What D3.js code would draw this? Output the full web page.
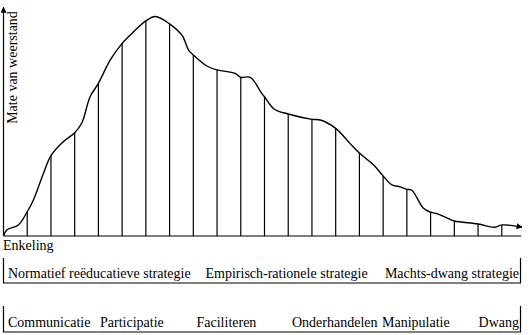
<!DOCTYPE html>
<html>
<head>
<meta charset="utf-8">
<script src="https://cdn.jsdelivr.net/npm/d3@7"></script>
<style>
  body { margin: 0; background: #fff; }
</style>
</head>
<body>
<div id="chart"></div>
<script>
// curve: position along the axis (tick units) and level of resistance (0-100)
const curveX = [0, 0.14, 0.63, 1, 1.26, 1.69, 2, 2.46, 3, 3.3, 3.65, 4, 4.5, 5, 5.48, 6, 6.4, 7, 7.55, 7.62, 7.8, 8, 8.57, 9, 9.76, 10, 10.4, 10.9, 11, 11.4, 12, 13, 13.35, 14, 14.6, 15, 15.6, 16, 16.37, 16.72, 17, 17.2, 17.7, 18, 18.33, 18.7, 19, 20, 20.7, 21, 21.85];
const curveY = [0, 2.6, 4.8, 10.5, 15.6, 27.3, 34.8, 40.3, 44.7, 48.9, 60.3, 66.1, 76.2, 83.4, 88.4, 93.1, 95.0, 91.8, 86.5, 85, 80.5, 78.4, 73.6, 71.9, 70.4, 68.7, 68.7, 61.5, 60.3, 55.0, 52.8, 50.5, 50.2, 46.6, 40.1, 35.9, 30.7, 26.0, 22.1, 21.3, 20.2, 19.9, 12.0, 10.3, 9.5, 7.7, 6.5, 5.2, 3.8, 4.8, 3.8];
const tickIdx = d3.range(1, 22); // vertical lines at whole tick units

const yTitle = 'Mate van weerstand';
const xStart = 'Enkeling';
const strategies = ['Normatief reëducatieve strategie', 'Empirisch-rationele strategie', 'Machts-dwang strategie'];
const methods = ['Communicatie', 'Participatie', 'Faciliteren', 'Onderhandelen', 'Manipulatie', 'Dwang'];

const width = 532, height = 335;
const font = '"Liberation Serif", "Times New Roman", "DejaVu Serif", serif';
const svg = d3.select('#chart').append('svg')
  .attr('width', width)
  .attr('height', height)
  .attr('font-family', font)
  .attr('font-size', 14);

const x = d3.scaleLinear().domain([0, 22]).range([3.5, 525.5]);
const y = d3.scaleLinear().domain([0, 100]).range([236, 5]);

const defs = svg.append('defs');
defs.append('marker')
  .attr('id', 'arrow')
  .attr('viewBox', '0 0 10 10')
  .attr('refX', 9).attr('refY', 5)
  .attr('markerWidth', 6).attr('markerHeight', 6)
  .attr('markerUnits', 'userSpaceOnUse')
  .attr('orient', 'auto')
  .append('path')
  .attr('d', 'M0,0 L10,5 L0,10 z')
  .attr('fill', '#000');

const pts = curveX.map((d, i) => [d, curveY[i]]);

// vertical lines from baseline up to the curve
const interp = u => {
  const i = d3.bisectLeft(curveX, u);
  if (curveX[i] === u) return curveY[i];
  const t = (u - curveX[i - 1]) / (curveX[i] - curveX[i - 1]);
  return curveY[i - 1] + t * (curveY[i] - curveY[i - 1]);
};
svg.selectAll('.tick-line')
  .data(tickIdx)
  .enter()
  .append('line')
  .attr('class', 'tick-line')
  .attr('x1', d => x(d)).attr('x2', d => x(d))
  .attr('y1', y(0)).attr('y2', d => y(interp(d)))
  .attr('stroke', '#000')
  .attr('stroke-width', 1.2);

// axes
svg.append('line')
  .attr('x1', x(0)).attr('y1', y(0))
  .attr('x2', x(21.82)).attr('y2', y(0))
  .attr('stroke', '#000').attr('stroke-width', 1.2);
svg.append('line')
  .attr('x1', x(0)).attr('y1', y(0))
  .attr('x2', x(0)).attr('y2', y(99))
  .attr('stroke', '#000').attr('stroke-width', 1.2)
  .attr('marker-end', 'url(#arrow)');

// the curve
svg.append('path')
  .datum(pts)
  .attr('d', d3.line().x(d => x(d[0])).y(d => y(d[1])).curve(d3.curveCatmullRom.alpha(0.5)))
  .attr('fill', 'none')
  .attr('stroke', '#000')
  .attr('stroke-width', 1.4)
  .attr('marker-end', 'url(#arrow)');

// y title
svg.append('text')
  .attr('transform', `translate(17,${(10 + 125) / 2}) rotate(-90)`)
  .attr('text-anchor', 'middle')
  .text(yTitle);

svg.append('text')
  .attr('x', 3).attr('y', 250)
  .text(xStart);

// brackets under the chart
function bracket(top, bottom) {
  svg.append('path')
    .attr('d', `M${x(0)},${top} V${bottom} H520.5 V${top}`)
    .attr('fill', 'none')
    .attr('stroke', '#000')
    .attr('stroke-width', 1.2);
}
bracket(258, 283);
bracket(306, 332);

const stratPos = [8, 205.5, 519];
const stratAnchor = ['start', 'start', 'end'];
svg.selectAll('.strat')
  .data(strategies)
  .enter()
  .append('text')
  .attr('class', 'strat')
  .attr('x', (d, i) => stratPos[i])
  .attr('y', 278)
  .attr('text-anchor', (d, i) => stratAnchor[i])
  .text(d => d);

const methodPos = [8, 100, 196.5, 292, 382, 519];
svg.selectAll('.method')
  .data(methods)
  .enter()
  .append('text')
  .attr('class', 'method')
  .attr('x', (d, i) => methodPos[i])
  .attr('y', 327)
  .attr('text-anchor', (d, i) => i === methods.length - 1 ? 'end' : 'start')
  .text(d => d);
</script>
</body>
</html>
